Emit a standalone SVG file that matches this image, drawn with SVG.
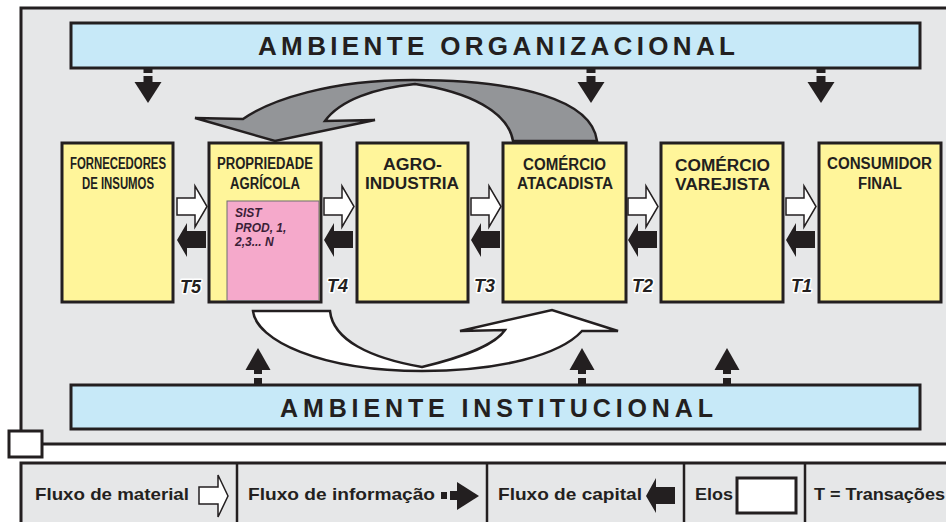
<svg xmlns="http://www.w3.org/2000/svg" xmlns:xlink="http://www.w3.org/1999/xlink" width="946" height="522" viewBox="0 0 946 522">
<style>
.frame{fill:#e6e7e8;stroke:#231f20;stroke-width:3}
.env{fill:#c7e9f8;stroke:#231f20;stroke-width:3}
.envt{font-family:"Liberation Sans",Arial,sans-serif;font-weight:bold;fill:#231f20}
.box{fill:#fff59a;stroke:#231f20;stroke-width:3}
.bt{font-family:"Liberation Sans",Arial,sans-serif;font-weight:bold;font-size:16px;fill:#231f20}
.pt{font-family:"Liberation Sans",Arial,sans-serif;font-weight:bold;font-style:italic;font-size:12px;fill:#3b1f38}
.tt{font-family:"Liberation Sans",Arial,sans-serif;font-weight:bold;font-style:italic;font-size:18px;fill:#231f20;stroke:#ffffff;stroke-width:3;paint-order:stroke;stroke-linejoin:round}
.lt{font-family:"Liberation Sans",Arial,sans-serif;font-weight:bold;font-size:17px;fill:#231f20}
.mat{fill:#ffffff;stroke:#231f20;stroke-width:1.5;stroke-linejoin:miter}
.cap{fill:#231f20}
.inf{fill:#231f20}
</style>
<defs>
<path id="matArrow" class="mat" d="M0,198 H18 V186 L30,206.5 L18,227 V215 H0 Z"/>
<path id="capArrow" class="cap" d="M0,240 L10,223 V231 H29 V248 H10 V257 Z"/>
<g id="infDown"><rect x="-4.5" y="68" width="9" height="5"/><rect x="-4.5" y="76" width="9" height="7"/><polygon points="-13.5,82 13.5,82 0,103"/></g>
<g id="infUp"><rect x="-4" y="378" width="8" height="7"/><rect x="-4" y="369" width="8" height="5"/><polygon points="-12.5,370 12.5,370 0,348"/></g>
</defs>

<rect x="21" y="8" width="945" height="436" class="frame"/>
<rect x="21" y="463" width="945" height="80" class="frame"/>
<rect x="9" y="431" width="33" height="26" fill="#ffffff" stroke="#231f20" stroke-width="3"/>

<g id="ambiente-organizacional">
<rect x="71" y="23" width="849" height="45" class="env"/>
<text x="258" y="54.5" class="envt" font-size="26" textLength="477" lengthAdjust="spacing">AMBIENTE ORGANIZACIONAL</text>
</g>
<g id="ambiente-institucional">
<rect x="71" y="385" width="849" height="44" class="env"/>
<text x="280" y="417" class="envt" font-size="25" textLength="433" lengthAdjust="spacing">AMBIENTE INSTITUCIONAL</text>
</g>

<g id="fornecedores">
<rect x="62" y="143" width="111" height="159" class="box"/>
<text x="70" y="169" class="bt" font-size="15.5" textLength="96" lengthAdjust="spacingAndGlyphs">FORNECEDORES</text>
<text x="82" y="188.5" class="bt" font-size="15.5" textLength="72" lengthAdjust="spacingAndGlyphs">DE INSUMOS</text>
</g>
<g id="propriedade">
<rect x="209" y="143" width="112" height="159" class="box"/>
<rect x="227" y="201" width="92" height="99.5" fill="#f5a9cb" stroke="#6d6e71" stroke-width="1"/>
<text x="217" y="169" class="bt" font-size="15.5" textLength="96" lengthAdjust="spacingAndGlyphs">PROPRIEDADE</text>
<text x="230" y="188.5" class="bt" font-size="15.5" textLength="70" lengthAdjust="spacingAndGlyphs">AGRÍCOLA</text>
<text x="235" y="217" class="pt">SIST</text>
<text x="235" y="232" class="pt">PROD, 1,</text>
<text x="235" y="246" class="pt">2,3... N</text>
</g>
<g id="agroindustria">
<rect x="357" y="143" width="111" height="159" class="box"/>
<text x="383" y="170" class="bt" font-size="16.5" textLength="59" lengthAdjust="spacingAndGlyphs">AGRO-</text>
<text x="365" y="189" class="bt" font-size="16.5" textLength="94" lengthAdjust="spacingAndGlyphs">INDUSTRIA</text>
</g>
<g id="atacadista">
<rect x="503" y="143" width="123" height="159" class="box"/>
<text x="523" y="170" class="bt" font-size="15.5" textLength="83" lengthAdjust="spacingAndGlyphs">COMÉRCIO</text>
<text x="517" y="189" class="bt" font-size="15.5" textLength="96" lengthAdjust="spacingAndGlyphs">ATACADISTA</text>
</g>
<g id="varejista">
<rect x="661" y="143" width="122" height="159" class="box"/>
<text x="675" y="171" class="bt" font-size="16" textLength="95" lengthAdjust="spacingAndGlyphs">COMÉRCIO</text>
<text x="675" y="190" class="bt" font-size="16" textLength="95" lengthAdjust="spacingAndGlyphs">VAREJISTA</text>
</g>
<g id="consumidor">
<rect x="819" y="143" width="122" height="159" class="box"/>
<text x="827" y="169" class="bt" font-size="15.5" textLength="105" lengthAdjust="spacingAndGlyphs">CONSUMIDOR</text>
<text x="858" y="189" class="bt" font-size="15.5" textLength="44" lengthAdjust="spacingAndGlyphs">FINAL</text>
</g>

<g id="connectors">
<path d="M597,141 C592,100 520,80 413,80 C330,80 270,100 243,119 L195,118 L275,141 L375,120 L325,121 C340,100 375,88 415,84 C470,92 508,112 513,141 Z" fill="#939598" stroke="#231f20" stroke-width="2.5" stroke-linejoin="miter"/>
<path d="M253,311 C256,340 320,371 422,371 C500,371 560,355 582,331 L618,331 L552,310 L460,331 L505,330 C495,345 460,358 422,367 C370,358 333,340 330,311 Z" fill="#ffffff" stroke="#231f20" stroke-width="2.5" stroke-linejoin="miter"/>
<g class="inf">
<use xlink:href="#infDown" x="148"/>
<use xlink:href="#infDown" x="591"/>
<use xlink:href="#infDown" x="821"/>
<use xlink:href="#infUp" x="258"/>
<use xlink:href="#infUp" x="582"/>
<use xlink:href="#infUp" x="727"/>
</g>
<use xlink:href="#matArrow" x="177"/>
<use xlink:href="#capArrow" x="177"/>
<use xlink:href="#matArrow" x="324"/>
<use xlink:href="#capArrow" x="324"/>
<use xlink:href="#matArrow" x="471"/>
<use xlink:href="#capArrow" x="471"/>
<use xlink:href="#matArrow" x="628"/>
<use xlink:href="#capArrow" x="628"/>
<use xlink:href="#matArrow" x="786"/>
<use xlink:href="#capArrow" x="786"/>
</g>

<g id="transactions">
<text x="180" y="293" class="tt">T5</text>
<text x="327" y="292" class="tt">T4</text>
<text x="474" y="292" class="tt">T3</text>
<text x="632" y="292" class="tt">T2</text>
<text x="791" y="292" class="tt">T1</text>
</g>

<g id="legend">
<line x1="237" y1="463" x2="237" y2="522" stroke="#231f20" stroke-width="2.5"/>
<line x1="487" y1="463" x2="487" y2="522" stroke="#231f20" stroke-width="2.5"/>
<line x1="684" y1="463" x2="684" y2="522" stroke="#231f20" stroke-width="2.5"/>
<line x1="805" y1="463" x2="805" y2="522" stroke="#231f20" stroke-width="2.5"/>
<text x="35" y="500" class="lt" textLength="154" lengthAdjust="spacingAndGlyphs">Fluxo de material</text>
<path class="mat" d="M199,487 H218 V475 L228,496 L218,517 V504 H199 Z"/>
<text x="248" y="500" class="lt" textLength="187" lengthAdjust="spacingAndGlyphs">Fluxo de informação</text>
<g class="inf"><rect x="441" y="492" width="6" height="7"/><rect x="450" y="491" width="7" height="9"/><polygon points="457,482 457,510 479,496"/></g>
<text x="498" y="500" class="lt" textLength="144" lengthAdjust="spacingAndGlyphs">Fluxo de capital</text>
<path class="cap" d="M646,496 L656,478 V487 H675 V504 H656 V513 Z"/>
<text x="695" y="500" class="lt" textLength="38" lengthAdjust="spacingAndGlyphs">Elos</text>
<rect x="737" y="478" width="59" height="35" fill="#ffffff" stroke="#231f20" stroke-width="3"/>
<text x="814" y="500" class="lt" textLength="131" lengthAdjust="spacingAndGlyphs">T = Transações</text>
</g>
</svg>
